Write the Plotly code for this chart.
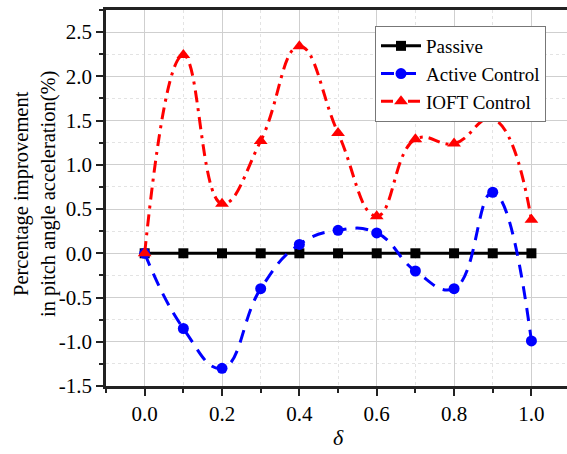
import plotly.graph_objects as go

delta = [0.0, 0.1, 0.2, 0.3, 0.4, 0.5, 0.6, 0.7, 0.8, 0.9, 1.0]
passive = [0, 0, 0, 0, 0, 0, 0, 0, 0, 0, 0]
active = [0.0, -0.85, -1.30, -0.40, 0.10, 0.26, 0.23, -0.20, -0.40, 0.69, -0.99]
ioft = [0.0, 2.24, 0.56, 1.27, 2.34, 1.36, 0.42, 1.29, 1.24, 1.52, 0.38]

y_ticks = [-1.5, -1.0, -0.5, 0.0, 0.5, 1.0, 1.5, 2.0, 2.5]
y_ticktext = ["-1.5", "-1.0", "-0.5", "0.0", "0.5", "1.0", "1.5", "2.0", "2.5"]
x_ticks = [0.0, 0.2, 0.4, 0.6, 0.8, 1.0]
x_ticktext = ["0.0", "0.2", "0.4", "0.6", "0.8", "1.0"]

FONT = "Liberation Serif, Times New Roman, serif"

fig = go.Figure()
fig.add_trace(go.Scatter(
    x=delta, y=passive, name="Passive", mode="lines+markers",
    line=dict(color="black", width=3),
    marker=dict(symbol="square", size=10, color="black")))
fig.add_trace(go.Scatter(
    x=delta, y=active, name="Active Control", mode="lines+markers",
    line=dict(color="#0000FF", width=3, dash="13px,9px", shape="spline", smoothing=1.3),
    marker=dict(symbol="circle", size=11, color="#0000FF")))
fig.add_trace(go.Scatter(
    x=delta, y=ioft, name="IOFT Control", mode="lines+markers",
    line=dict(color="#FF0000", width=3, dash="12px,6px,3px,6px", shape="spline", smoothing=1.3),
    marker=dict(symbol="triangle-up", size=12, color="#FF0000")))

PW, PH = 461, 376

fig.update_layout(
    width=567, height=454,
    margin=dict(l=106, r=0, t=10, b=68, autoexpand=False),
    paper_bgcolor="white", plot_bgcolor="white",
    font=dict(family=FONT, size=19, color="black"),
    showlegend=True,
    legend=dict(
        x=(375 - 106) / PW, y=1 - (26 - 10) / PH, xanchor="left", yanchor="top",
        bgcolor="white", bordercolor="#777", borderwidth=1,
        font=dict(family=FONT, size=19),
        tracegroupgap=0, itemwidth=40,
    ),
)

fig.update_xaxes(
    range=[-0.1, 1.092], automargin=False,
    tickvals=x_ticks, ticktext=x_ticktext,
    ticks="outside", ticklen=7, tickwidth=1.5, tickcolor="#222",
    showline=True, linewidth=2.5, linecolor="#222", mirror=True,
    showgrid=True, gridcolor="#cfcfcf", gridwidth=1,
    zeroline=False,
    minor=dict(dtick=0.1, tick0=0, ticks="outside", ticklen=4, tickcolor="#222",
               showgrid=True, gridcolor="#e3e3e3", griddash="dot", gridwidth=1),
    tickfont=dict(family=FONT, size=21),
)
fig.update_yaxes(
    range=[-1.5, 2.75], automargin=False,
    tickvals=y_ticks, ticktext=y_ticktext,
    ticks="outside", ticklen=7, tickwidth=1.5, tickcolor="#222",
    showline=True, linewidth=2.5, linecolor="#222", mirror=False,
    showgrid=True, gridcolor="#cfcfcf", gridwidth=1,
    zeroline=False,
    minor=dict(dtick=0.25, tick0=0, ticks="outside", ticklen=4, tickcolor="#222",
               showgrid=True, gridcolor="#e3e3e3", griddash="dot", gridwidth=1),
    tickfont=dict(family=FONT, size=21),
)

fig.add_annotation(
    text="Percentage improvement<br>in pitch angle acceleration(%)",
    xref="paper", yref="paper",
    x=(35 - 106) / PW, y=0.5 + (198 - 194) / PH,
    xanchor="center", yanchor="middle",
    textangle=-90, showarrow=False,
    font=dict(family=FONT, size=20.5, color="black"),
)
fig.add_annotation(
    text="<i>δ</i>",
    xref="paper", yref="paper",
    x=(338 - 106) / PW, y=-(437 - 386) / PH,
    xanchor="center", yanchor="middle",
    showarrow=False,
    font=dict(family=FONT, size=22, color="black"),
)

fig.write_html(
    "out.html",
    config={"displayModeBar": False},
    post_script="document.body.style.margin='0px';document.body.style.overflow='hidden';",
)
